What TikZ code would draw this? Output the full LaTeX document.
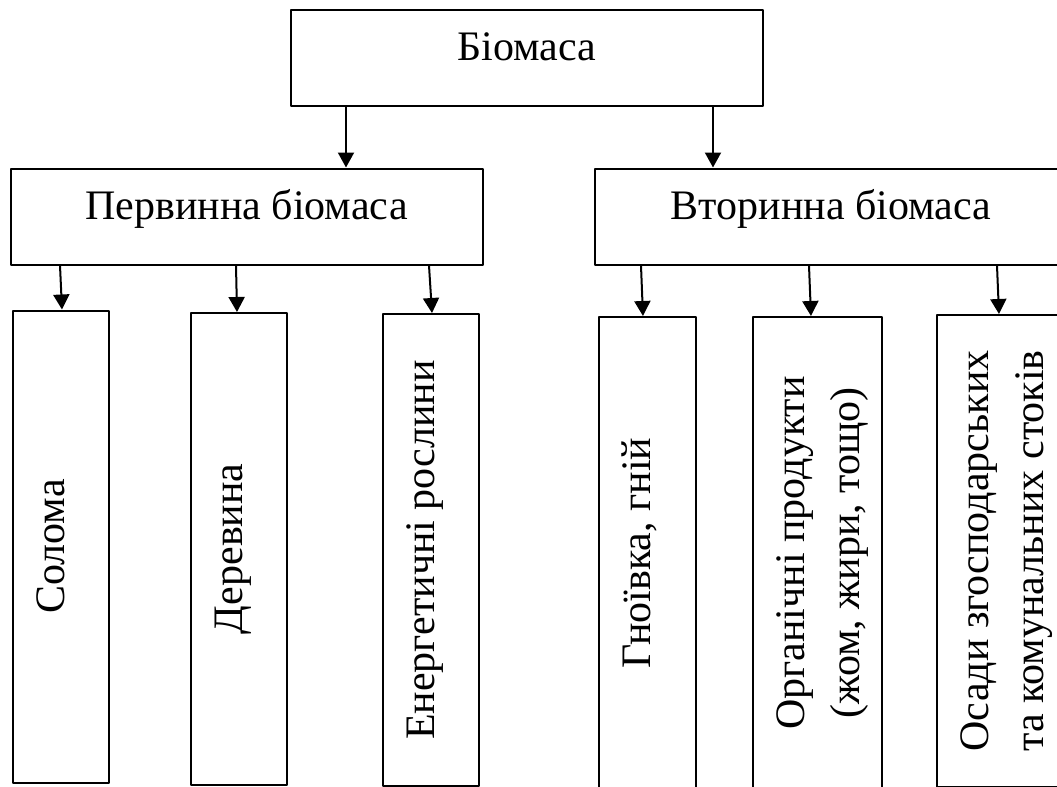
\documentclass[tikz,border=0pt]{standalone}
\usepackage{fontspec}
\setmainfont{Liberation Serif}
\usetikzlibrary{arrows.meta}

\tikzset{
  box/.style={draw, line width=1pt, inner sep=0pt, font=\fontsize{21}{27.5}\selectfont},
  head/.style={box, minimum width=236pt, text height=25.5pt, text depth=22.5pt},
  leaf/.style={box, rotate=90, align=center, minimum width=236pt, text height=25.5pt},
  leaftwo/.style={leaf, text height=53pt}
}

\begin{document}
\begin{tikzpicture}[line cap=round,line join=round,>={Triangle[width=8pt,length=7.5pt]},x=0.5pt,y=-0.5pt]
		\useasboundingbox (0,0) rectangle (1057,787);
		\clip (0,0) rectangle (1057,787);
		% boxes
		\node[head] (bio) at (527,58) {Біомаса};
		\node[head] (prim) at (246.5,216.5) {Первинна біомаса};
		\node[head] (sec) at (831,216.5) {Вторинна біомаса};
		\node[leaf, text depth=22.5pt] (solo) at (61,546.5) {Солома};
		\node[leaf, text depth=22.5pt] (derev) at (239,549) {Деревина};
		\node[leaf, text depth=22.5pt] (energ) at (431,550) {Енергетичні рослини};
		\node[leaf, text depth=23pt] (gnoi) at (647.5,553) {Гноївка, гній};
		\node[leaftwo, text depth=11.5pt] (org) at (817.5,553) {Органічні продукти\\(жом, жири, тощо)};
		\node[leaftwo, text depth=9pt] (osad) at (999,551) {Осади згосподарських\\та комунальних стоків};
		% arrows
		\draw [line width=1pt,->] ([xshift=-90.5pt]bio.south) -- ([xshift=49.75pt]prim.north);
		\draw [line width=1pt,->] ([xshift=93pt]bio.south) -- ([xshift=-59pt]sec.north);
		\draw [line width=1pt,->] ([xshift=-93.25pt]prim.south) -- ([xshift=0.5pt]solo.east);
		\draw [line width=1pt,->] ([xshift=-5.25pt]prim.south) -- ([xshift=-1pt]derev.east);
		\draw [line width=1pt,->] ([xshift=91.25pt]prim.south) -- ([xshift=0.5pt]energ.east);
		\draw [line width=1pt,->] ([xshift=-95pt]sec.south) -- ([xshift=-2.25pt]gnoi.east);
		\draw [line width=1pt,->] ([xshift=-11pt]sec.south) -- ([xshift=-3.25pt]org.east);
		\draw [line width=1pt,->] ([xshift=83pt]sec.south) -- (osad.east);
\end{tikzpicture}
\end{document}
